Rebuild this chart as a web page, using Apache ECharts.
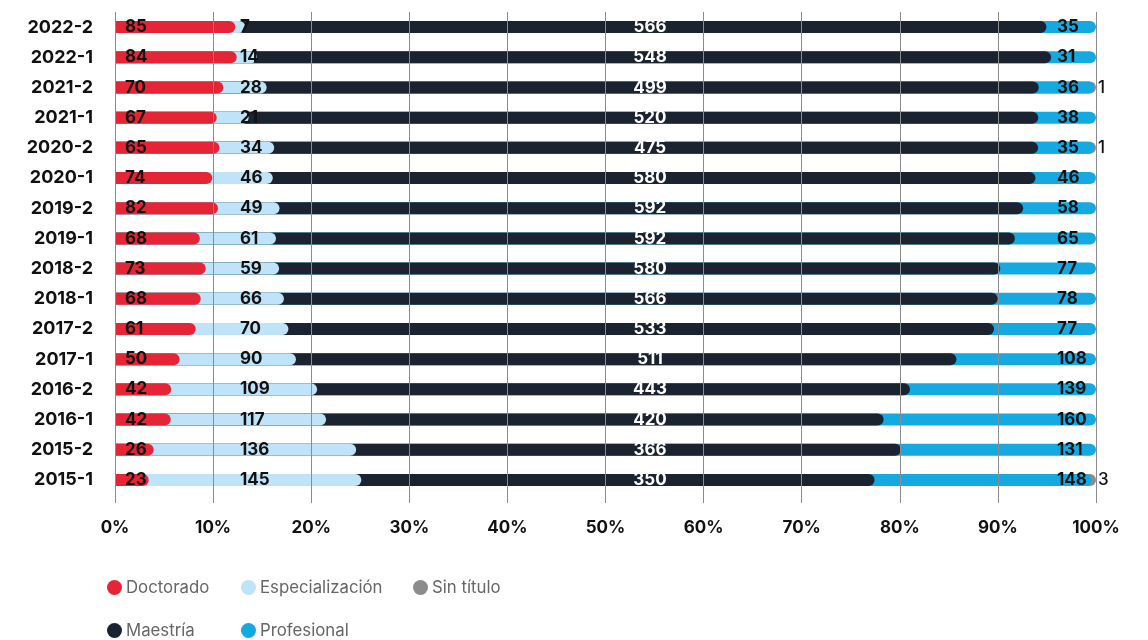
<!DOCTYPE html>
<html>
<head>
<meta charset="utf-8">
<style>
html,body{margin:0;padding:0;background:#fff;}
#chart{width:1148px;height:640px;}
</style>
<script src="https://cdn.jsdelivr.net/npm/echarts@6/dist/echarts.min.js"></script>
</head>
<body>
<div id="chart"></div>
<script>
// Categories, top to bottom
var categories = ['2022-2','2022-1','2021-2','2021-1','2020-2','2020-1','2019-2','2019-1','2018-2','2018-1','2017-2','2017-1','2016-2','2016-1','2015-2','2015-1'];
var doctorado      = [85, 84, 70, 67, 65, 74, 82, 68, 73, 68, 61, 50, 42, 42, 26, 23];
var especializacion= [7, 14, 28, 21, 34, 46, 49, 61, 59, 66, 70, 90, 109, 117, 136, 145];
var maestria       = [566, 548, 499, 520, 475, 580, 592, 592, 580, 566, 533, 511, 443, 420, 366, 350];
var profesional    = [35, 31, 36, 38, 35, 46, 58, 65, 77, 78, 77, 108, 139, 160, 131, 148];
var sinTitulo      = [0, 0, 1, 0, 1, 0, 0, 0, 0, 0, 0, 0, 0, 0, 0, 3];
var xTickLabels    = ['0%','10%','20%','30%','40%','50%','60%','70%','80%','90%','100%'];

var colors = {
  'Doctorado': '#e52535',
  'Especialización': '#bfe3f8',
  'Maestría': '#1b2230',
  'Profesional': '#14a9e1',
  'Sin título': '#8c8c8c'
};

// cumulative shares (each bar drawn from 0, overlapping, for the rounded-cap look)
var order = [doctorado, especializacion, maestria, profesional, sinTitulo];
var cum = order.map(function(){ return []; });
categories.forEach(function(c, i){
  var total = 0; order.forEach(function(a){ total += a[i]; });
  var run = 0;
  order.forEach(function(a, k){
    run += a[i];
    cum[k][i] = (a[i] > 0) ? run / total * 100 : '-';
  });
});

var FONT = 'Inter, "DejaVu Sans", sans-serif';

function mkSeries(name, k, raw, z, lblX, align, color, weight){
  return {
    name: name,
    type: 'bar',
    z: z,
    barWidth: 12,
    barGap: '-100%',
    itemStyle: { color: colors[name], borderRadius: [0, 6, 6, 0] },
    data: cum[k],
    label: {
      show: true,
      position: [lblX, '50%'],
      align: align,
      verticalAlign: 'middle',
      color: color,
      fontFamily: FONT,
      fontWeight: weight,
      fontSize: 17,
      formatter: function(p){ var v = raw[p.dataIndex]; return v > 0 ? String(v) : ''; }
    }
  };
}

var legendItems = [
  ['Doctorado', 107, 579],
  ['Especialización', 241, 579],
  ['Sin título', 413, 579],
  ['Maestría', 107, 622],
  ['Profesional', 241, 622]
];

var option = {
  animation: false,
  backgroundColor: '#fff',
  grid: { left: 115, right: 52, top: 12, bottom: 145, containLabel: false },
  legend: legendItems.map(function(it){
    return {
      data: [{ name: it[0], icon: 'circle', itemStyle: { color: colors[it[0]] } }],
      left: it[1], top: it[2],
      padding: 0,
      itemWidth: 15, itemHeight: 15,
      selectedMode: false,
      textStyle: { color: '#666', fontSize: 16.8, fontFamily: FONT, padding: [0,0,0,-1] }
    };
  }),
  xAxis: {
    type: 'value',
    min: 0, max: 100, interval: 10,
    z: 10,
    axisLine: { show: false },
    axisTick: { show: true, length: 8, lineStyle: { color: '#8c8c8c' } },
    splitLine: { show: true, lineStyle: { color: '#8c8c8c', width: 1 } },
    axisLabel: {
      margin: 24,
      color: '#111',
      fontFamily: FONT,
      fontWeight: 700,
      fontSize: 17,
      formatter: function(v){ return xTickLabels[Math.round(v/10)]; }
    }
  },
  yAxis: {
    type: 'category',
    inverse: true,
    data: categories,
    axisLine: { show: false },
    axisTick: { show: false },
    axisLabel: {
      margin: 22,
      color: '#111',
      fontFamily: FONT,
      fontWeight: 700,
      fontSize: 18
    }
  },
  series: [
    mkSeries('Sin título', 4, sinTitulo, 1, 983, 'left', '#111', 500),
    mkSeries('Profesional', 3, profesional, 2, 942, 'left', '#111', 700),
    mkSeries('Maestría', 2, maestria, 3, 535, 'center', '#fff', 700),
    mkSeries('Especialización', 1, especializacion, 4, 125, 'left', '#111', 700),
    mkSeries('Doctorado', 0, doctorado, 5, 10, 'left', '#111', 700)
  ]
};

var chart = echarts.init(document.getElementById('chart'));
chart.setOption(option);
</script>
</body>
</html>
